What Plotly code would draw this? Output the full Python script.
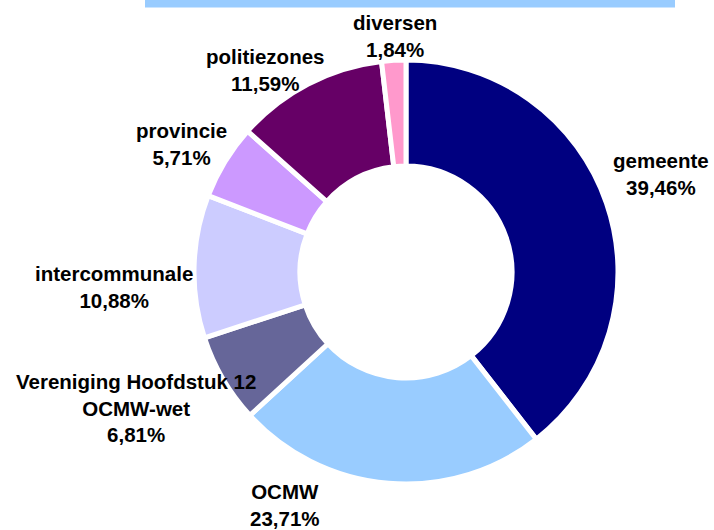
import plotly.graph_objects as go

categories = ["gemeente", "OCMW", "Vereniging Hoofdstuk 12<br>OCMW-wet", "intercommunale",
              "provincie", "politiezones", "diversen"]
shares = [39.46, 23.71, 6.81, 10.88, 5.71, 11.59, 1.84]
colors = ["#000080", "#99CCFF", "#666699", "#CCCCFF", "#CC99FF", "#660066", "#FF99CC"]

# label centre positions in pixels (layout only)
label_px = [(661, 174), (285, 505), (136, 408), (114, 287), (181, 144), (265, 70), (395, 36)]

W, H = 714, 530
cx, cy, R = 406, 272, 212

fig = go.Figure(go.Pie(
    labels=categories,
    values=shares,
    marker=dict(colors=colors, line=dict(color="white", width=5)),
    hole=0.5,
    sort=False,
    direction="clockwise",
    rotation=0,
    textinfo="none",
    hoverinfo="label+percent",
    showlegend=False,
    domain=dict(x=[(cx - R) / W, (cx + R) / W], y=[(H - cy - R) / H, (H - cy + R) / H]),
))

annotations = []
for cat, val, (px, py) in zip(categories, shares, label_px):
    txt = f"{cat}<br>{val:.2f}%".replace(".", ",")
    annotations.append(dict(
        x=px / W, y=1 - py / H, xref="paper", yref="paper",
        text=txt, showarrow=False, xanchor="center", yanchor="middle",
        align="center",
        font=dict(family="Liberation Sans, Arial, sans-serif", size=20.5,
                  color="black", weight="bold"),
    ))

fig.update_layout(
    width=W, height=H,
    margin=dict(l=0, r=0, t=0, b=0),
    paper_bgcolor="white",
    plot_bgcolor="white",
    annotations=annotations,
    shapes=[dict(type="rect", xref="paper", yref="paper",
                 x0=145 / W, x1=675 / W, y0=1 - 7.5 / H, y1=1.0,
                 fillcolor="#99CCFF", line=dict(width=0))],
)

fig.write_html("out.html", config={"displayModeBar": False},
               post_script="document.body.style.margin='0';document.body.style.overflow='hidden';")
